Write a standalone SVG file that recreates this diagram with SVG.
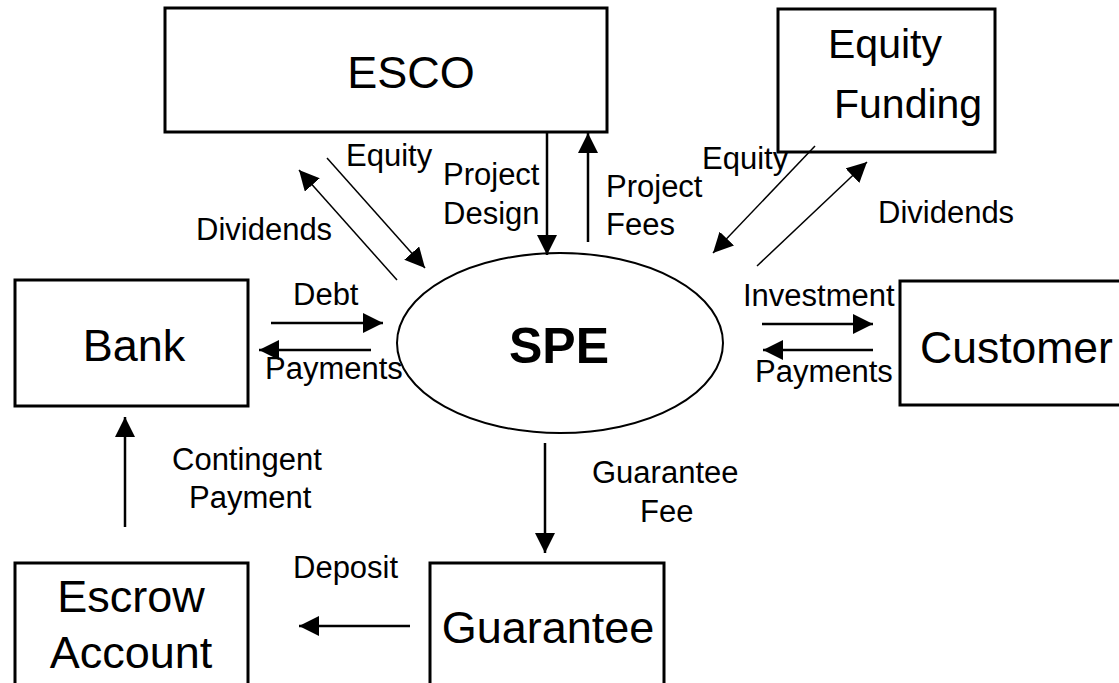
<svg xmlns="http://www.w3.org/2000/svg" width="1119" height="683" viewBox="0 0 1119 683">
<style>
.box{fill:#fff;stroke:#000;stroke-width:3}
.ell{fill:#fff;stroke:#000;stroke-width:2}
.nt{font-family:"Liberation Sans",Arial,sans-serif;font-size:45px;fill:#000}
.lb{font-family:"Liberation Sans",Arial,sans-serif;font-size:31px;fill:#000}
.ln{stroke:#000;stroke-width:2.5;fill:none;marker-end:url(#ah)}
.dg{stroke:#000;stroke-width:1.5;fill:none;marker-end:url(#ah)}
</style>
<defs>
<marker id="ah" markerUnits="userSpaceOnUse" markerWidth="20" markerHeight="20" viewBox="0 0 20 20" refX="20" refY="10" orient="auto">
<path d="M0,0 L20,10 L0,20 z" fill="#000"/>
</marker>
</defs>
<rect width="1119" height="683" fill="#fff"/>
<g id="esco"><rect class="box" x="165" y="8" width="442" height="124"/><text class="nt" x="411" y="88" text-anchor="middle">ESCO</text></g>
<g id="equity-funding"><rect class="box" x="778" y="9" width="217" height="143"/><text class="nt" x="828" y="58" style="font-size:41px">Equity</text><text class="nt" x="834" y="118" style="font-size:41px">Funding</text></g>
<g id="bank"><rect class="box" x="15" y="280" width="233" height="126"/><text class="nt" x="134" y="361" text-anchor="middle">Bank</text></g>
<g id="spe"><ellipse class="ell" cx="560" cy="343" rx="163" ry="90"/><text class="nt" x="559" y="363" text-anchor="middle" style="font-size:50px;font-weight:bold">SPE</text></g>
<g id="customer"><rect class="box" x="900" y="281" width="230" height="124"/><text class="nt" x="920" y="363" style="font-size:44.5px">Customer</text></g>
<g id="escrow"><rect class="box" x="15" y="563" width="233" height="130"/><text class="nt" x="131" y="612" text-anchor="middle">Escrow</text><text class="nt" x="131" y="668" text-anchor="middle">Account</text></g>
<g id="guarantee"><rect class="box" x="430" y="563" width="234" height="130"/><text class="nt" x="548" y="643" text-anchor="middle">Guarantee</text></g>
<g id="connectors">
<line class="dg" x1="397" y1="280" x2="299" y2="170"/>
<line class="dg" x1="327" y1="158" x2="425" y2="268"/>
<line class="ln" x1="547" y1="132" x2="547" y2="255"/>
<line class="ln" x1="588" y1="242" x2="588" y2="133"/>
<line class="dg" x1="815" y1="146" x2="713" y2="253"/>
<line class="dg" x1="757" y1="266" x2="867" y2="162"/>
<line class="ln" x1="271" y1="323" x2="383" y2="323"/>
<line class="ln" x1="371" y1="350" x2="259" y2="350"/>
<line class="ln" x1="762" y1="324" x2="873" y2="324"/>
<line class="ln" x1="873" y1="350" x2="763" y2="350"/>
<line class="ln" x1="545" y1="443" x2="545" y2="553"/>
<line class="ln" x1="125" y1="527" x2="125" y2="417"/>
<line class="ln" x1="410" y1="626" x2="299" y2="626"/>
<text class="lb" x="346" y="166">Equity</text>
<text class="lb" x="196" y="240">Dividends</text>
<text class="lb" x="443" y="185">Project</text>
<text class="lb" x="443" y="224">Design</text>
<text class="lb" x="606" y="197">Project</text>
<text class="lb" x="606" y="235">Fees</text>
<text class="lb" x="702" y="169">Equity</text>
<text class="lb" x="878" y="223">Dividends</text>
<text class="lb" x="293" y="305">Debt</text>
<text class="lb" x="265" y="379">Payments</text>
<text class="lb" x="743" y="306">Investment</text>
<text class="lb" x="755" y="382">Payments</text>
<text class="lb" x="172" y="470">Contingent</text>
<text class="lb" x="189" y="508">Payment</text>
<text class="lb" x="592" y="483">Guarantee</text>
<text class="lb" x="640" y="522">Fee</text>
<text class="lb" x="293" y="578">Deposit</text>
</g>
</svg>
